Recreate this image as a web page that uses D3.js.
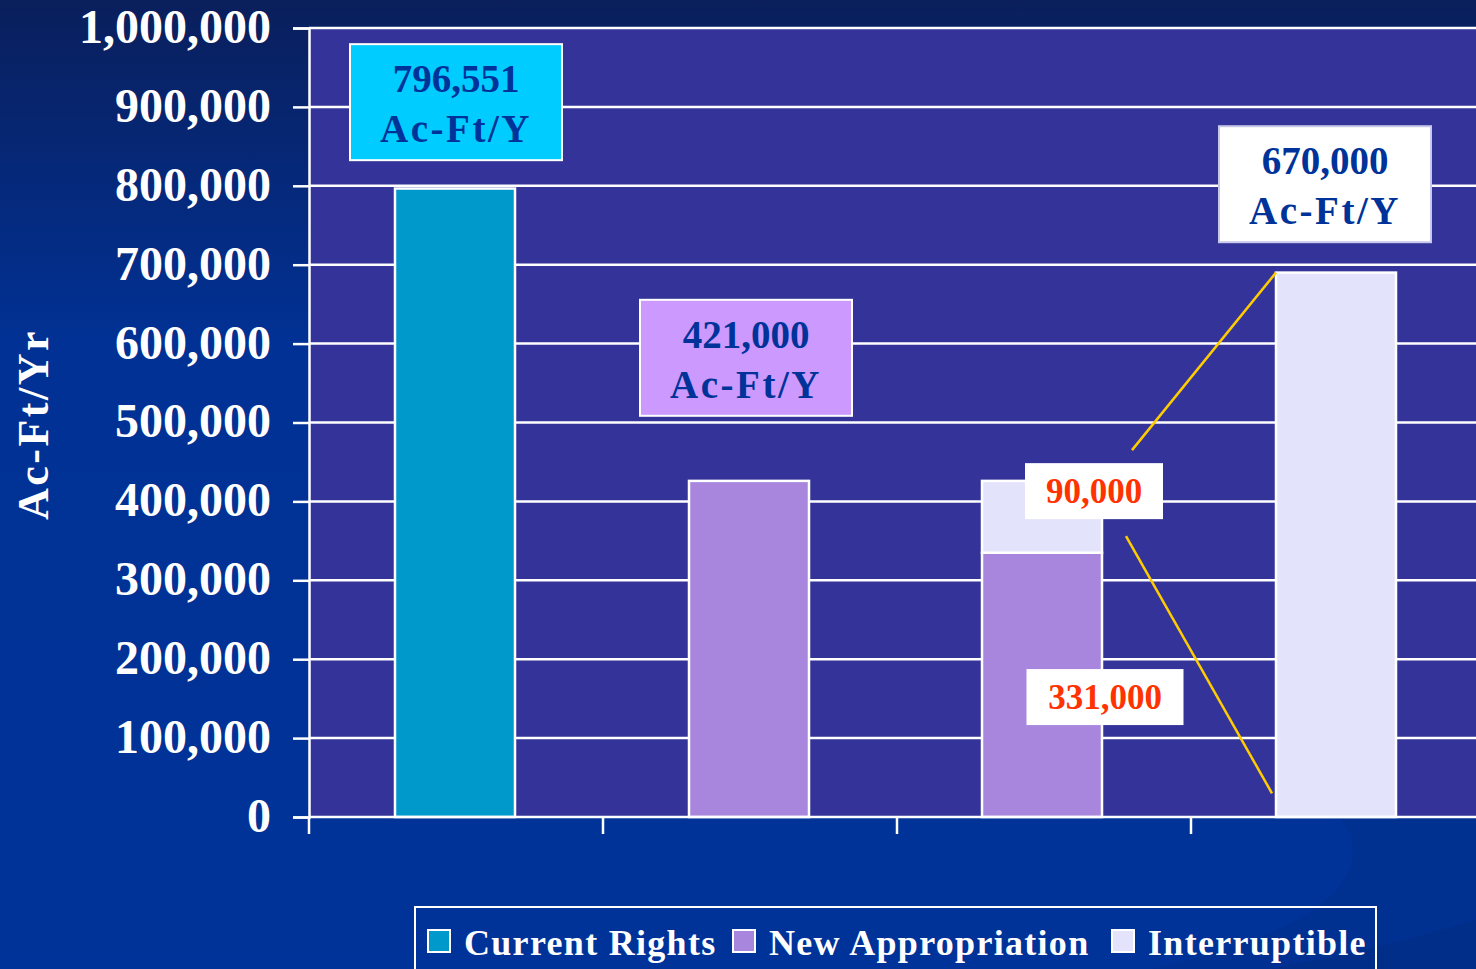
<!DOCTYPE html>
<html>
<head>
<meta charset="utf-8">
<script src="https://cdn.jsdelivr.net/npm/d3@7"></script>
<style>
  html, body { margin: 0; padding: 0; background: #003399; overflow: hidden; }
  svg { display: block; }
  text { font-family: "Liberation Serif", "DejaVu Serif", serif; font-weight: bold; }
</style>
</head>
<body>
<svg width="1476" height="969"></svg>
<script>
// chart values
var categories = ["c1", "c2", "c3", "c4"];
var seriesNames = ["Current Rights", "New Appropriation", "Interruptible"];
var currentRights = [796551, 0, 0, 0];
var newAppropriation = [0, 426000, 335000, 0];
var interruptible = [0, 0, 91000, 690000];
var yTicks = [0, 100000, 200000, 300000, 400000, 500000, 600000, 700000, 800000, 900000, 1000000];
var colors = ["#0099cc", "#a886dd", "#e3e3fc"];

// callout texts
var bigLabels = [["796,551", "Ac-Ft/Y"], ["421,000", "Ac-Ft/Y"], ["670,000", "Ac-Ft/Y"]];
var smallLabels = ["90,000", "331,000"];

var svg = d3.select("svg");
var W = 1476, H = 969;
var plot = {left: 309, right: 1485, top: 28, bottom: 817};

// background
var defs = svg.append("defs");
var grad = defs.append("linearGradient").attr("id", "bg")
	.attr("x1", 0).attr("y1", 0).attr("x2", 0).attr("y2", 1);
grad.append("stop").attr("offset", "0%").attr("stop-color", "#0a1f5c");
grad.append("stop").attr("offset", "35%").attr("stop-color", "#013194");
grad.append("stop").attr("offset", "100%").attr("stop-color", "#003399");
svg.append("rect").attr("width", W).attr("height", H).attr("fill", "url(#bg)");

// subtle swoosh bottom right
svg.append("path")
	.attr("d", "M1340,817 C1380,870 1330,930 1150,969 L1476,969 L1476,817 Z")
	.attr("fill", "#00308f").attr("opacity", 0.8);
svg.append("path")
	.attr("d", "M1270,969 C1380,950 1440,930 1476,920 L1476,969 Z")
	.attr("fill", "#002e88");

var x = d3.scaleBand().domain(categories).range([plot.left, plot.right]).paddingInner(0).paddingOuter(0);
var y = d3.scaleLinear().domain([0, 1000000]).range([plot.bottom, plot.top]);
var barW = 120;

// plot area
svg.append("rect")
	.attr("x", plot.left).attr("y", plot.top)
	.attr("width", plot.right - plot.left).attr("height", plot.bottom - plot.top)
	.attr("fill", "#333399");

// gridlines
svg.append("g").selectAll("line").data(yTicks.slice(1)).enter().append("line")
	.attr("x1", plot.left).attr("x2", W)
	.attr("y1", function(d) {return y(d)}).attr("y2", function(d) {return y(d)})
	.attr("stroke", "#ffffff").attr("stroke-width", 2.5);

// stacked bars
var table = categories.map(function(c, i) {
	return {cat: c, "Current Rights": currentRights[i], "New Appropriation": newAppropriation[i], "Interruptible": interruptible[i]};
});
var stacked = d3.stack().keys(seriesNames)(table);

svg.append("g").selectAll("g").data(stacked).enter().append("g")
		.attr("fill", function(d, i) {return colors[i]})
	.selectAll("rect").data(function(d) {return d.filter(function(p) {return p[1] > p[0]})})
	.enter().append("rect")
		.attr("x", function(d) {return x(d.data.cat) + x.bandwidth() / 2 - barW / 2 + (d.data.cat === "c4" ? -2 : (d.data.cat === "c3" ? -2 : -1))})
		.attr("width", barW)
		.attr("y", function(d) {return y(d[1])})
		.attr("height", function(d) {return y(d[0]) - y(d[1])})
		.attr("stroke", "#ffffff").attr("stroke-width", 2.5);

// y axis
var yAxis = svg.append("g").attr("transform", "translate(" + plot.left + ",0)")
	.call(d3.axisLeft(y).tickValues(yTicks).tickSize(16).tickPadding(22).tickFormat(d3.format(",")));
yAxis.select(".domain").attr("stroke", "#ffffff").attr("stroke-width", 2.5);
yAxis.selectAll(".tick line").attr("stroke", "#ffffff").attr("stroke-width", 2.5);
yAxis.selectAll(".tick text")
	.attr("fill", "#ffffff").attr("font-size", 48)
	.attr("font-family", "'Liberation Serif', serif").attr("font-weight", "bold")
	.attr("dy", "0.3em");

// x axis (ticks at category boundaries, no labels)
var xAxisG = svg.append("g");
xAxisG.append("line").attr("x1", plot.left).attr("x2", W)
	.attr("y1", plot.bottom).attr("y2", plot.bottom)
	.attr("stroke", "#ffffff").attr("stroke-width", 2.5);
xAxisG.selectAll(".xt").data(categories).enter().append("line")
	.attr("x1", function(d) {return x(d)}).attr("x2", function(d) {return x(d)})
	.attr("y1", plot.bottom).attr("y2", plot.bottom + 17)
	.attr("stroke", "#ffffff").attr("stroke-width", 2.5);

// y title
svg.append("text")
	.attr("transform", "translate(48," + (y(500000) + 2) + ") rotate(-90)")
	.attr("text-anchor", "middle").attr("fill", "#ffffff")
	.attr("font-size", 44).attr("letter-spacing", 2.5)
	.text("Ac-Ft/Yr");

// big callouts
var bigBoxes = [
	{cat: "c1", dx: 0, yc: 906000, fill: "#00ccff"},
	{cat: "c2", dx: -4, yc: 582000, fill: "#cc99ff"},
	{cat: "c4", dx: -13, yc: 802000, fill: "#ffffff"}
];
bigBoxes.forEach(function(b, i) {
	var cx = x(b.cat) + x.bandwidth() / 2 + b.dx, cy = y(b.yc);
	var g = svg.append("g");
	g.append("rect").attr("x", cx - 106).attr("y", cy - 58).attr("width", 212).attr("height", 116)
		.attr("fill", b.fill).attr("stroke", i === 2 ? "#c8c8e8" : "#ffffff").attr("stroke-width", 2);
	g.append("text").attr("x", cx).attr("y", cy - 10).attr("text-anchor", "middle")
		.attr("fill", "#003399").attr("font-size", 39).text(bigLabels[i][0]);
	g.append("text").attr("x", cx).attr("y", cy + 40).attr("text-anchor", "middle")
		.attr("fill", "#003399").attr("font-size", 39).attr("letter-spacing", 2.5).text(bigLabels[i][1]);
});

// small callouts
var smallBoxes = [
	{cat: "c3", dx: 50, yc: 413000, w: 138},
	{cat: "c3", dx: 61, yc: 152000, w: 157}
];
smallBoxes.forEach(function(b, i) {
	var cx = x(b.cat) + x.bandwidth() / 2 + b.dx, cy = y(b.yc);
	svg.append("rect").attr("x", cx - b.w / 2).attr("y", cy - 28).attr("width", b.w).attr("height", 56)
		.attr("fill", "#ffffff");
	svg.append("text").attr("x", cx).attr("y", cy + 12).attr("text-anchor", "middle")
		.attr("fill", "#ff3300").attr("font-size", 35).text(smallLabels[i]);
});

// connector lines
var c4 = x("c4") + x.bandwidth() / 2 - barW / 2 - 2;
var c3r = x("c3") + x.bandwidth() / 2;
var links = [
	[[c3r + 88, y(465000)], [c4, y(690000)]],
	[[c3r + 82, y(356000)], [c4 - 4, y(30000)]]
];
svg.append("g").selectAll("line").data(links).enter().append("line")
	.attr("x1", function(d) {return d[0][0]}).attr("y1", function(d) {return d[0][1]})
	.attr("x2", function(d) {return d[1][0]}).attr("y2", function(d) {return d[1][1]})
	.attr("stroke", "#ffcc00").attr("stroke-width", 2.5);

// legend
var lg = svg.append("g");
lg.append("rect").attr("x", 415).attr("y", 907).attr("width", 961).attr("height", 80)
	.attr("fill", "none").attr("stroke", "#ffffff").attr("stroke-width", 2);
var legX = [428, 733, 1112];
seriesNames.forEach(function(n, i) {
	lg.append("rect").attr("x", legX[i]).attr("y", 930).attr("width", 22).attr("height", 22)
		.attr("fill", colors[i]).attr("stroke", "#ffffff").attr("stroke-width", 2);
	lg.append("text").attr("x", legX[i] + 36).attr("y", 955)
		.attr("fill", "#ffffff").attr("font-size", 36).attr("letter-spacing", 1.3).text(n);
});
</script>
</body>
</html>
